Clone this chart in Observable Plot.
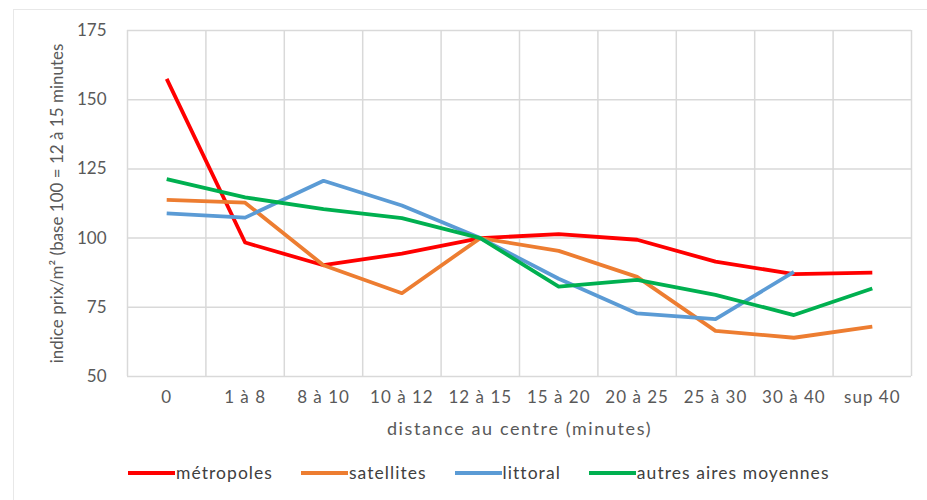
<!DOCTYPE html>
<html>
<head>
<meta charset="utf-8">
<script src="https://cdn.jsdelivr.net/npm/d3@7"></script>
<script src="https://cdn.jsdelivr.net/npm/@observablehq/plot@0.6"></script>
<style>
  html, body { margin: 0; padding: 0; background: #fff; overflow: hidden; }
  #wrap { position: relative; width: 927px; height: 500px; font-family: Lato, "Open Sans", sans-serif; }
  #border { position: absolute; left: 13px; top: 9px; width: 930px; height: 520px; border: 1.5px solid #e8e8e8; box-sizing: border-box; }
  #chart { position: absolute; left: 0; top: 0; }
  #legend { position: absolute; left: 128px; top: 462px; display: flex; gap: 28px; font-size: 17.5px; letter-spacing: 1.05px; color: #404040; }
  .item { display: flex; align-items: center; }
  .sw { width: 47px; height: 4px; display: inline-block; margin-right: 1px; }
  #chart g[aria-label="x-axis tick label"] text { letter-spacing: 1px; }
  #chart g[aria-label="x-axis label"] text { font-size: 18px; letter-spacing: 1.6px; }
</style>
</head>
<body>
<div id="wrap">
  <div id="border"></div>
  <div id="chart"></div>
  <div id="legend"></div>
</div>
<script>
const categories = ["0", "1 à 8", "8 à 10", "10 à 12", "12 à 15", "15 à 20", "20 à 25", "25 à 30", "30 à 40", "sup 40"];
const seriesNames = ["métropoles", "satellites", "littoral", "autres aires moyennes"];
const colors = ["#ff0000", "#ed7d31", "#5b9bd5", "#00b050"];
const metropoles = [157.5, 98.4, 90.2, 94.4, 100, 101.4, 99.4, 91.5, 87, 87.5];
const satellites = [113.8, 112.8, 90.2, 80.1, 100, 95.4, 86, 66.5, 64, 68];
const littoral = [108.9, 107.4, 120.7, 111.8, 100, 85.3, 72.8, 70.7, 87.8, null];
const autres = [121.3, 114.7, 110.5, 107.2, 100, 82.5, 84.9, 79.5, 72.2, 81.8];
const yTicks = [50, 75, 100, 125, 150, 175];

const allSeries = [metropoles, satellites, littoral, autres];
const rows = [];
allSeries.forEach((vals, s) => {
  vals.forEach((v, i) => {
    if (v != null) rows.push({series: seriesNames[s], i, value: v});
  });
});
const idx = categories.map((c, i) => i);
const bounds = d3.range(categories.length + 1).map(i => i - 0.5);

const chart = Plot.plot({
  width: 927,
  height: 440,
  marginTop: 30,
  marginBottom: 64,
  marginLeft: 127,
  marginRight: 16,
  style: { fontFamily: "Lato, 'Open Sans', sans-serif", fontSize: "17px", color: "#595959", background: "transparent" },
  x: { type: "linear", domain: [-0.5, categories.length - 0.5] },
  y: { domain: [50, 175] },
  color: { domain: seriesNames, range: colors },
  marks: [
    Plot.gridY(yTicks, { stroke: "#d9d9d9", strokeOpacity: 1, strokeWidth: 1.5 }),
    Plot.ruleX(bounds, { stroke: "#d9d9d9", strokeWidth: 1.5 }),
    Plot.axisY(yTicks, { tickSize: 0, tickPadding: 21, fill: "#595959", fontSize: 17,
      label: "indice prix/m² (base 100 = 12 à 15 minutes", labelAnchor: "center", labelArrow: "none", labelOffset: 77 }),
    Plot.axisX(idx, { tickSize: 0, tickPadding: 14, tickFormat: i => categories[i], fill: "#595959", fontSize: 17,
      label: "distance au centre (minutes)", labelAnchor: "center", labelArrow: "none", labelOffset: 58 }),
    Plot.line(rows, { x: "i", y: "value", z: "series", stroke: "series", strokeWidth: 3.8, strokeLinejoin: "round", strokeLinecap: "butt" })
  ]
});
document.getElementById("chart").appendChild(chart);

const legend = document.getElementById("legend");
seriesNames.forEach((n, s) => {
  const it = document.createElement("div");
  it.className = "item";
  it.innerHTML = `<span class="sw" style="background:${colors[s]}"></span><span>${n}</span>`;
  legend.appendChild(it);
});
</script>
</body>
</html>
